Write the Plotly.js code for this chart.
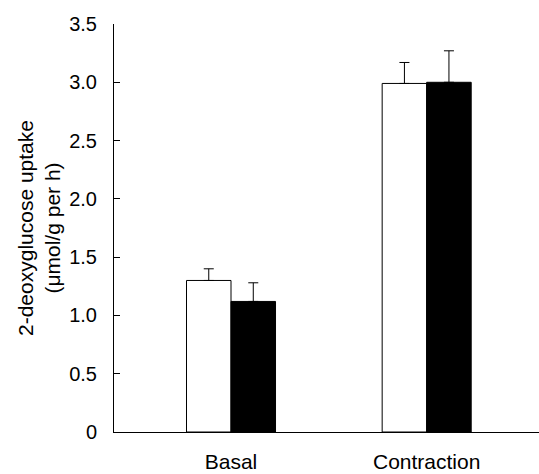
<!DOCTYPE html>
<html><head><meta charset="utf-8">
<script src="https://cdn.plot.ly/plotly-3.0.1.min.js"></script>
<style>html,body{margin:0;padding:0;background:#fff}</style>
</head><body><div id="chart" style="width:539px;height:474px"></div>
<script>
const categories = ["Basal", "Contraction"];
const controlValues = [1.30, 2.99];
const controlErrors = [0.10, 0.18];
const treatedValues = [1.12, 3.00];
const treatedErrors = [0.16, 0.27];
const yTickVals = [0, 0.5, 1.0, 1.5, 2.0, 2.5, 3.0, 3.5];
const yTickText = ["0", "0.5", "1.0", "1.5", "2.0", "2.5", "3.0", "3.5"];
const yTitleLines = ["2-deoxyglucose uptake", "(μmol/g per h)"];

const fam = "Liberation Sans, Arial, sans-serif";
const tickFont = {family: fam, size: 20, color: "#000"};
const labFont = {family: fam, size: 21, color: "#000"};
const traces = [
  {type: "bar", x: categories, y: controlValues, name: "Control",
   marker: {color: "#fff", line: {color: "#000", width: 1}},
   error_y: {type: "data", array: controlErrors, arrayminus: [0, 0], symmetric: false, color: "#000", thickness: 1, width: 5}},
  {type: "bar", x: categories, y: treatedValues, name: "Treated",
   marker: {color: "#000", line: {color: "#000", width: 1}},
   error_y: {type: "data", array: treatedErrors, arrayminus: [0, 0], symmetric: false, color: "#000", thickness: 1, width: 5}}
];
const layout = {
  width: 539, height: 474,
  margin: {l: 114, r: 0, t: 24, b: 42},
  paper_bgcolor: "#fff", plot_bgcolor: "#fff",
  showlegend: false,
  barmode: "group", bargap: 0.545, bargroupgap: 0,
  font: labFont,
  xaxis: {range: [-0.598, 1.574], showline: true, linecolor: "#000", linewidth: 1,
          ticks: "", showgrid: false, zeroline: false, tickfont: labFont, ticklabelstandoff: 11},
  yaxis: {range: [0, 3.5], tickvals: yTickVals, ticktext: yTickText, showline: true,
          linecolor: "#000", linewidth: 1, ticks: "inside", ticklen: 6, tickcolor: "#000",
          showgrid: false, zeroline: false, tickfont: tickFont, ticklabelstandoff: 12},
  annotations: [
    {text: yTitleLines.join("<br>"), textangle: -90, xref: "paper", yref: "paper",
     x: -114/425, xanchor: "left", y: 0.5, yanchor: "middle",
     xshift: 12, showarrow: false, font: labFont, align: "center"}
  ]
};
Plotly.newPlot("chart", traces, layout, {staticPlot: true, displayModeBar: false});
</script></body></html>
